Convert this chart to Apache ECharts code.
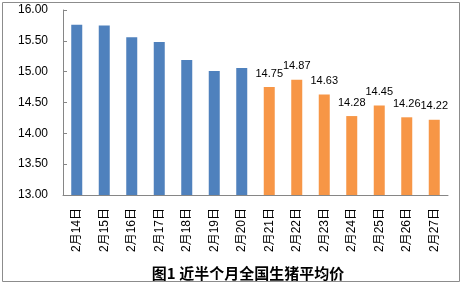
<!DOCTYPE html>
<html><head><meta charset="utf-8">
<script src="https://cdn.jsdelivr.net/npm/echarts@6/dist/echarts.min.js"></script>
<style>html,body{margin:0;padding:0;background:#fff}#c{width:465px;height:285px}</style>
</head><body><div id="c"></div>
<script>
const categories = ['2月14日','2月15日','2月16日','2月17日','2月18日','2月19日','2月20日','2月21日','2月22日','2月23日','2月24日','2月25日','2月26日','2月27日'];
const blueValues = [15.76, 15.75, 15.56, 15.48, 15.19, 15.01, 15.06, null, null, null, null, null, null, null];
const orangeValues = [null, null, null, null, null, null, null, 14.75, 14.87, 14.63, 14.28, 14.45, 14.26, 14.22];
const yTicks = [13, 13.5, 14, 14.5, 15, 15.5, 16];
const titleText = '图1 近半个月全国生猪平均价';

const chart = echarts.init(document.getElementById('c'), null, {renderer: 'canvas'});
chart.setOption({
  animation: false,
  backgroundColor: '#fff',
  title: {
    text: titleText, left: 243, top: 261, textAlign: 'center',
    textStyle: {fontFamily: 'Noto Sans CJK SC', fontWeight: 'bold', fontSize: 15, color: '#000'}
  },
  grid: {left: 63, right: 17, top: 10, bottom: 90, containLabel: false},
  xAxis: {
    type: 'category', data: categories,
    axisLine: {lineStyle: {color: '#868686'}},
    axisTick: {inside: true, length: 4, lineStyle: {color: '#868686'}},
    axisLabel: {rotate: 90, margin: 13, fontSize: 12, color: '#000', fontFamily: 'Liberation Sans, Noto Sans CJK SC'}
  },
  yAxis: {
    type: 'value', min: yTicks[0], max: yTicks[yTicks.length - 1], interval: 0.5,
    splitLine: {show: false},
    axisLine: {show: true, lineStyle: {color: '#868686'}},
    axisTick: {show: true, inside: true, length: 4, lineStyle: {color: '#868686'}},
    axisLabel: {margin: 15, fontSize: 12, color: '#000', fontFamily: 'Liberation Sans',
      formatter: v => v.toFixed(2)}
  },
  series: [
    {type: 'bar', data: blueValues, barWidth: 11, barGap: '-100%', itemStyle: {color: '#4F81BD'}},
    {type: 'bar', data: orangeValues, barWidth: 11, itemStyle: {color: '#F79646'},
      label: {show: true, position: 'top', distance: 8, fontSize: 11, color: '#000', fontFamily: 'Liberation Sans',
        formatter: p => p.value.toFixed(2)}}
  ],
  graphic: [{type: 'rect', shape: {x: 2.5, y: 2.5, width: 457, height: 279}, style: {fill: 'none', stroke: '#8c8c8c', lineWidth: 1}, silent: true}]
});
</script></body></html>
